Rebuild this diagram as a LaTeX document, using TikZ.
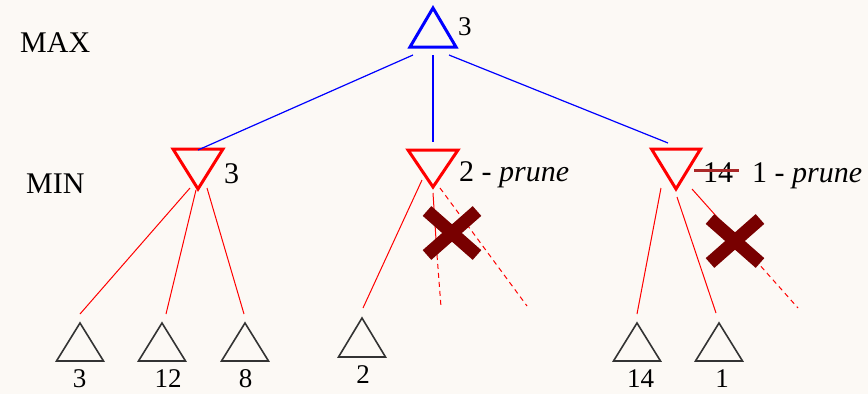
\documentclass[tikz,border=0pt]{standalone}
\usepackage{fontspec}
\setmainfont{Liberation Serif}
\usetikzlibrary{calc}
\definecolor{bg}{RGB}{252,249,245}
\definecolor{xmark}{RGB}{120,0,0}
\definecolor{strikec}{RGB}{170,40,40}
\definecolor{leafc}{RGB}{51,51,51}
\begin{document}
\begin{tikzpicture}[x=1pt,y=-1pt,
  maxtri/.style={draw=blue, line width=3pt, line join=miter},
  mintri/.style={draw=red, line width=3pt, line join=miter},
  leaftri/.style={draw=leafc, line width=1.6pt, line join=miter},
  blueedge/.style={blue, line width=1.2pt},
  rededge/.style={red, line width=1pt},
  prunededge/.style={red, line width=1pt, dash pattern=on 5pt off 4pt},
  cross/.style={xmark, line width=13pt},
  lbl/.style={inner sep=0pt, anchor=base west, font=\fontsize{30}{32}\selectfont},
  leaflbl/.style={inner sep=0pt, anchor=base, font=\fontsize{27}{29}\selectfont}]
\fill[bg] (0,0) rectangle (868,394);
\useasboundingbox (0,0) rectangle (868,394);

% triangles
\coordinate (root) at (433,8);
\draw[maxtri] (root) -- ++(23,39) -- ++(-46,0) -- cycle;
\coordinate (m1) at (198,189);
\draw[mintri] (m1) -- ++(25,-40) -- ++(-50,0) -- cycle;
\coordinate (m2) at (433,187);
\draw[mintri] (m2) -- ++(25,-37) -- ++(-50,0) -- cycle;
\coordinate (m3) at (676,189);
\draw[mintri] (m3) -- ++(24.5,-40) -- ++(-49,0) -- cycle;

\coordinate (L1) at (80,323);
\coordinate (L2) at (162,323);
\coordinate (L3) at (245,323);
\coordinate (L4) at (362,318);
\coordinate (L5) at (637,323);
\coordinate (L6) at (719,323);
\foreach \l in {L1,L2,L3,L5,L6}{
  \draw[leaftri] (\l) -- ++(23.5,38) -- ++(-47,0) -- cycle;
}
\draw[leaftri] (L4) -- ++(23.5,39) -- ++(-47,0) -- cycle;

% blue connectors
\coordinate (r1) at (413,55);
\coordinate (r2) at (433,55);
\coordinate (r3) at (449,55);
\coordinate (m1t) at (198,150);
\coordinate (m2t) at (433,142);
\coordinate (m3t) at (668,143);
\draw[blueedge] (r1) -- (m1t);
\draw[blueedge] (r2) -- (m2t);
\draw[blueedge] (r3) -- (m3t);

% red connectors, left
\coordinate (m1a) at (190,188);
\coordinate (m1b) at (196,190);
\coordinate (m1c) at (207,188);
\coordinate (L1t) at (80,314);
\coordinate (L2t) at (166,314);
\coordinate (L3t) at (244,314);
\draw[rededge] (m1a) -- (L1t);
\draw[rededge] (m1b) -- (L2t);
\draw[rededge] (m1c) -- (L3t);

% middle
\coordinate (m2a) at (422,180);
\coordinate (L4t) at (363,308);
\coordinate (m2b) at (433,193);
\coordinate (m2bx) at (437,255);
\coordinate (p1) at (441,307);
\coordinate (m2c) at (440,188);
\coordinate (p2) at (527,306);
\draw[rededge] (m2a) -- (L4t);
\draw[rededge] (m2b) -- (m2bx);
\draw[prunededge] (m2bx) -- (p1);
\draw[prunededge] (m2c) -- (p2);

% right
\coordinate (m3a) at (661,188);
\coordinate (L5t) at (637,314);
\coordinate (m3b) at (677,197);
\coordinate (L6t) at (716,313);
\coordinate (m3c) at (692,189);
\coordinate (m3cx) at (725,226);
\coordinate (p3) at (798,308);
\draw[rededge] (m3a) -- (L5t);
\draw[rededge] (m3b) -- (L6t);
\draw[rededge] (m3c) -- (m3cx);
\draw[prunededge] (m3cx) -- (p3);

% crosses
\coordinate (x1) at (452,233);
\coordinate (x2) at (735,241);
\foreach \c in {x1,x2}{
  \draw[cross] ($(\c)+(-25,-22)$) -- ($(\c)+(25,22)$);
  \draw[cross] ($(\c)+(-25,22)$) -- ($(\c)+(25,-22)$);
}

% labels
\node[lbl] (maxlbl) at (20,52) {MAX};
\node[lbl] (minlbl) at (26,193) {MIN};
\node[lbl, font=\fontsize{27}{29}\selectfont] (v0) at (458,35) {3};
\node[lbl] (v1) at (224,183) {3};
\node[lbl] (v2) at (459,181) {2 - \textit{prune}};
\node[lbl] (v3old) at (703,182) {14};
\coordinate (s1) at (694,170);
\coordinate (s2) at (739,170);
\draw[strikec, line width=3pt] (s1) -- (s2);
\node[lbl] (v3) at (752,182) {1 - \textit{prune}};

\node[leaflbl] (t1) at (79.5,387) {3};
\node[leaflbl] (t2) at (168,387) {12};
\node[leaflbl] (t3) at (245.5,387) {8};
\node[leaflbl] (t4) at (363,383) {2};
\node[leaflbl] (t5) at (640.5,387) {14};
\node[leaflbl] (t6) at (722,387) {1};
\end{tikzpicture}
\end{document}
